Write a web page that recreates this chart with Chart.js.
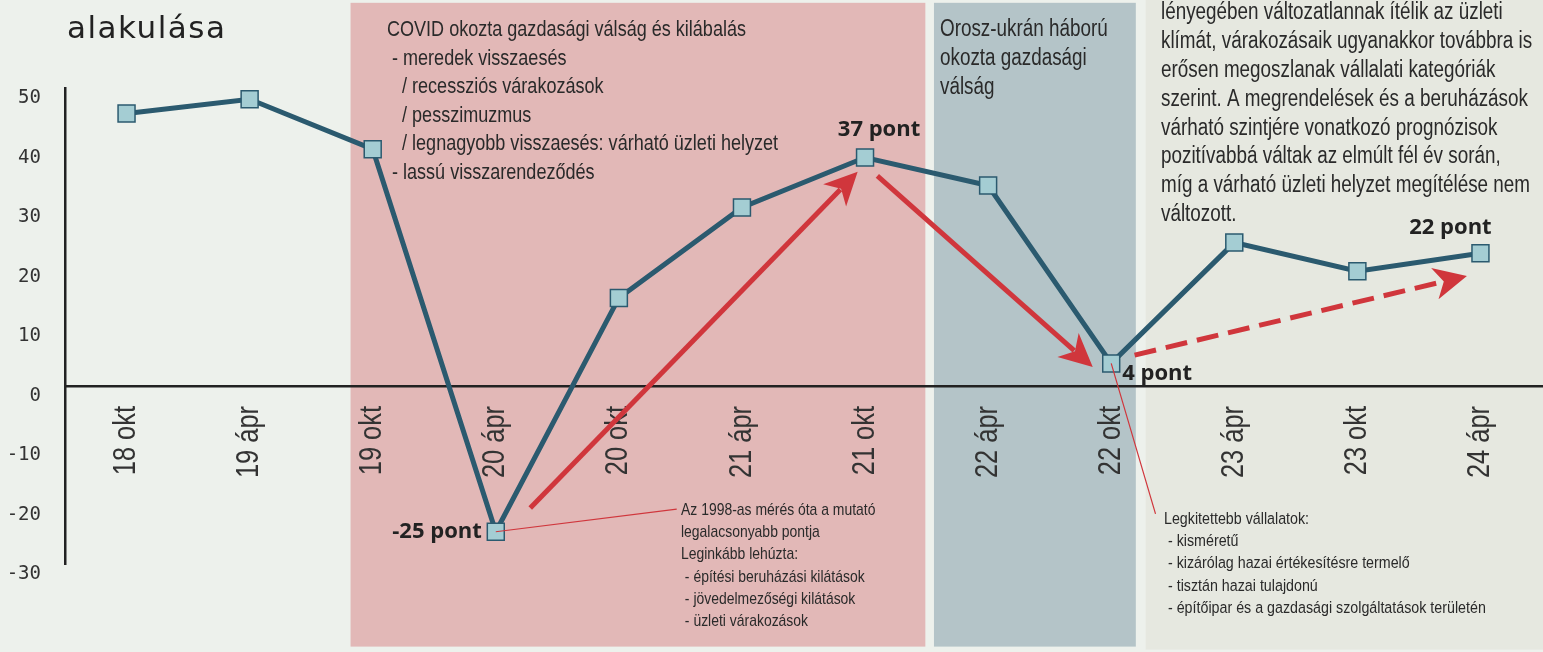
<!DOCTYPE html>
<html lang="hu">
<head>
<meta charset="UTF-8">
<title>Üzleti bizalmi index alakulása</title>
<script src="https://cdn.jsdelivr.net/npm/chart.js"></script>
<style>
  html, body { margin: 0; padding: 0; background: #edf1ec; }
  #wrap { width: 1543px; height: 652px; position: relative; }
</style>
</head>
<body>
<div id="wrap"><canvas id="bizalmiChart"></canvas></div>
<script>
// adatok
const periods = ['18 okt', '19 ápr', '19 okt', '20 ápr', '20 okt', '21 ápr', '21 okt', '22 ápr', '22 okt', '23 ápr', '23 okt', '24 ápr'];
const indexValues = [45.8, 48.2, 39.8, -24.5, 14.8, 30.0, 38.4, 33.7, 3.8, 24.1, 19.3, 22.3];
const yTicks = [-30, -20, -10, 0, 10, 20, 30, 40, 50];
const pointNotes = ['', '', '', '-25 pont', '', '', '37 pont', '', '4 pont', '', '', '22 pont'];

const covidText = [
  'COVID okozta gazdasági válság és kilábalás',
  ' - meredek visszaesés',
  '   / recessziós várakozások',
  '   / pesszimuzmus',
  '   / legnagyobb visszaesés: várható üzleti helyzet',
  ' - lassú visszarendeződés'
];
const warText = ['Orosz-ukrán háború', 'okozta gazdasági', 'válság'];
const summaryText = [
  'lényegében változatlannak ítélik az üzleti',
  'klímát, várakozásaik ugyanakkor továbbra is',
  'erősen megoszlanak vállalati kategóriák',
  'szerint. A megrendelések és a beruházások',
  'várható szintjére vonatkozó prognózisok',
  'pozitívabbá váltak az elmúlt fél év során,',
  'míg a várható üzleti helyzet megítélése nem',
  'változott.'
];
const lowText = [
  'Az 1998-as mérés óta a mutató',
  'legalacsonyabb pontja',
  'Leginkább lehúzta:',
  ' - építési beruházási kilátások',
  ' - jövedelmezőségi kilátások',
  ' - üzleti várakozások'
];
const exposedText = [
  'Legkitettebb vállalatok:',
  ' - kisméretű',
  ' - kizárólag hazai értékesítésre termelő',
  ' - tisztán hazai tulajdonú',
  ' - építőipar és a gazdasági szolgáltatások területén'
];

const SANS = "'Liberation Sans', Arial, sans-serif";
const NARROW_K = 0.82; // keskenyített betű
const RED = '#d0363c';

function narrowText(ctx, t, x, y) {
  ctx.save();
  ctx.translate(x, y);
  ctx.scale(NARROW_K, 1);
  ctx.fillText(t, 0, 0);
  ctx.restore();
}

function drawLines(ctx, lines, x, y, step) {
  lines.forEach((t, i) => narrowText(ctx, t, x, y + i * step));
}

function drawArrow(ctx, x1, y1, x2, y2, dashed) {
  const a = Math.atan2(y2 - y1, x2 - x1);
  const c = Math.cos(a), s = Math.sin(a);
  const len = 33, half = 16;
  ctx.strokeStyle = RED;
  ctx.fillStyle = RED;
  ctx.lineWidth = 5;
  ctx.setLineDash(dashed ? [22, 10] : []);
  ctx.beginPath();
  ctx.moveTo(x1, y1);
  ctx.lineTo(x2 - len * 0.75 * c, y2 - len * 0.75 * s);
  ctx.stroke();
  ctx.setLineDash([]);
  const bx = x2 - len * c, by = y2 - len * s;
  ctx.beginPath();
  ctx.moveTo(x2, y2);
  ctx.lineTo(bx - half * s, by + half * c);
  ctx.lineTo(x2 - len * 0.72 * c, y2 - len * 0.72 * s);
  ctx.lineTo(bx + half * s, by - half * c);
  ctx.closePath();
  ctx.fill();
}

const decor = {
  id: 'decor',
  beforeDraw(chart) {
    const {ctx, scales: {x, y}} = chart;
    ctx.save();
    ctx.fillStyle = '#edf1ec';
    ctx.fillRect(0, 0, chart.width, chart.height);
    const top = y.getPixelForValue(64.4), bottom = y.getPixelForValue(-43.8);
    // COVID sáv
    let l = x.getPixelForValue(1.82), r = x.getPixelForValue(6.49);
    ctx.fillStyle = '#e2b8b7';
    ctx.fillRect(l, top, r - l, bottom - top);
    // háború sáv
    l = x.getPixelForValue(6.56); r = x.getPixelForValue(8.2);
    ctx.fillStyle = '#b4c4c8';
    ctx.fillRect(l, top, r - l, bottom - top);
    // jobb oldali szövegdoboz
    l = x.getPixelForValue(8.28);
    ctx.fillStyle = '#e6e8e0';
    ctx.fillRect(l, 0, chart.width - l, y.getPixelForValue(-44.3));

    // cím maradéka
    ctx.fillStyle = '#222';
    ctx.font = '31px "DejaVu Sans"';
    ctx.letterSpacing = '1.5px';
    ctx.textBaseline = 'alphabetic';
    ctx.fillText('alakulása', 67, 38);
    ctx.letterSpacing = '0px';

    ctx.fillStyle = '#2a2a2a';
    ctx.textBaseline = 'middle';
    ctx.font = '22px ' + SANS;
    drawLines(ctx, covidText, 387, 30, 28.6);
    ctx.font = '23px ' + SANS;
    drawLines(ctx, warText, 940, 30, 28.8);
    drawLines(ctx, summaryText, 1161, 13, 28.8);
    ctx.font = '17px ' + SANS;
    drawLines(ctx, lowText, 681, 510, 22.3);
    ctx.font = '17.4px ' + SANS;
    drawLines(ctx, exposedText, 1164, 519, 22.3);

    // x tengely feliratai (függőlegesen, keskeny betűvel)
    const zeroY = y.getPixelForValue(0);
    ctx.fillStyle = '#333';
    ctx.font = '31px ' + SANS;
    ctx.textAlign = 'right';
    ctx.textBaseline = 'middle';
    periods.forEach((lab, i) => {
      ctx.save();
      ctx.translate(x.getPixelForValue(i), zeroY + 20);
      ctx.rotate(-Math.PI / 2);
      ctx.scale(NARROW_K, 1);
      ctx.fillText(lab, 0, 0);
      ctx.restore();
    });
    ctx.restore();
  },
  afterDatasetsDraw(chart) {
    const {ctx, scales: {x, y}} = chart;
    const pts = chart.getDatasetMeta(0).data;
    ctx.save();
    // vékony mutatóvonalak
    ctx.strokeStyle = RED;
    ctx.lineWidth = 1.2;
    ctx.beginPath();
    ctx.moveTo(pts[3].x, pts[3].y);
    ctx.lineTo(x.getPixelForValue(4.47), y.getPixelForValue(-20.7));
    ctx.moveTo(pts[8].x, pts[8].y);
    ctx.lineTo(x.getPixelForValue(8.36), y.getPixelForValue(-21.5));
    ctx.stroke();

    // trend nyilak
    drawArrow(ctx, x.getPixelForValue(3.28), y.getPixelForValue(-20.5), x.getPixelForValue(5.94), y.getPixelForValue(36.0), false);
    drawArrow(ctx, x.getPixelForValue(6.1), y.getPixelForValue(35.3), x.getPixelForValue(7.85), y.getPixelForValue(3.2), false);
    drawArrow(ctx, x.getPixelForValue(8.19), y.getPixelForValue(5.2), x.getPixelForValue(10.89), y.getPixelForValue(18.5), true);

    // pontfeliratok
    ctx.fillStyle = '#222';
    ctx.font = 'bold 22px "Open Sans"';
    ctx.textBaseline = 'middle';
    pointNotes.forEach((t, i) => {
      if (!t) return;
      const p = pts[i];
      if (i === 3) { ctx.textAlign = 'right'; ctx.fillText(t, p.x - 14, p.y); }
      else if (i === 6) { ctx.textAlign = 'center'; ctx.fillText(t, p.x + 14, p.y - 28); }
      else if (i === 8) { ctx.textAlign = 'left'; ctx.fillText(t, p.x + 11, p.y + 10); }
      else { ctx.textAlign = 'center'; ctx.fillText(t, p.x - 30, p.y - 26); }
    });
    ctx.restore();
  }
};

const ctx = document.getElementById('bizalmiChart').getContext('2d');
new Chart(ctx, {
  type: 'line',
  data: {
    labels: periods,
    datasets: [{
      data: indexValues,
      borderColor: '#2b5a6f',
      borderWidth: 5,
      pointStyle: 'rect',
      pointRadius: 12,
      pointHoverRadius: 12,
      pointBackgroundColor: '#a4cdd3',
      pointBorderColor: '#2b5a6f',
      pointBorderWidth: 1.5,
      tension: 0
    }]
  },
  options: {
    responsive: true,
    maintainAspectRatio: false,
    animation: false,
    layout: { autoPadding: false, padding: { top: 88.5, bottom: 87.5, left: 0, right: 1 } },
    plugins: { legend: { display: false }, tooltip: { enabled: false } },
    scales: {
      x: {
        position: { y: 0 },
        offset: true,
        grid: { display: false, drawTicks: false },
        border: { color: '#222', width: 2.5 },
        ticks: { display: false },
        afterFit(scale) { scale.paddingLeft = 0; scale.paddingRight = 0; }
      },
      y: {
        min: -30,
        max: 50,
        afterFit(scale) { scale.width = 65; },
        afterBuildTicks(scale) { scale.ticks = yTicks.map(v => ({ value: v })); },
        grid: { display: false, drawTicks: false },
        border: { color: '#222', width: 2.5 },
        ticks: {
          padding: 24,
          labelOffset: 10,
          color: '#333',
          font: { family: "'DejaVu Sans Mono', monospace", size: 19 }
        }
      }
    }
  },
  plugins: [decor]
});
</script>
</body>
</html>
